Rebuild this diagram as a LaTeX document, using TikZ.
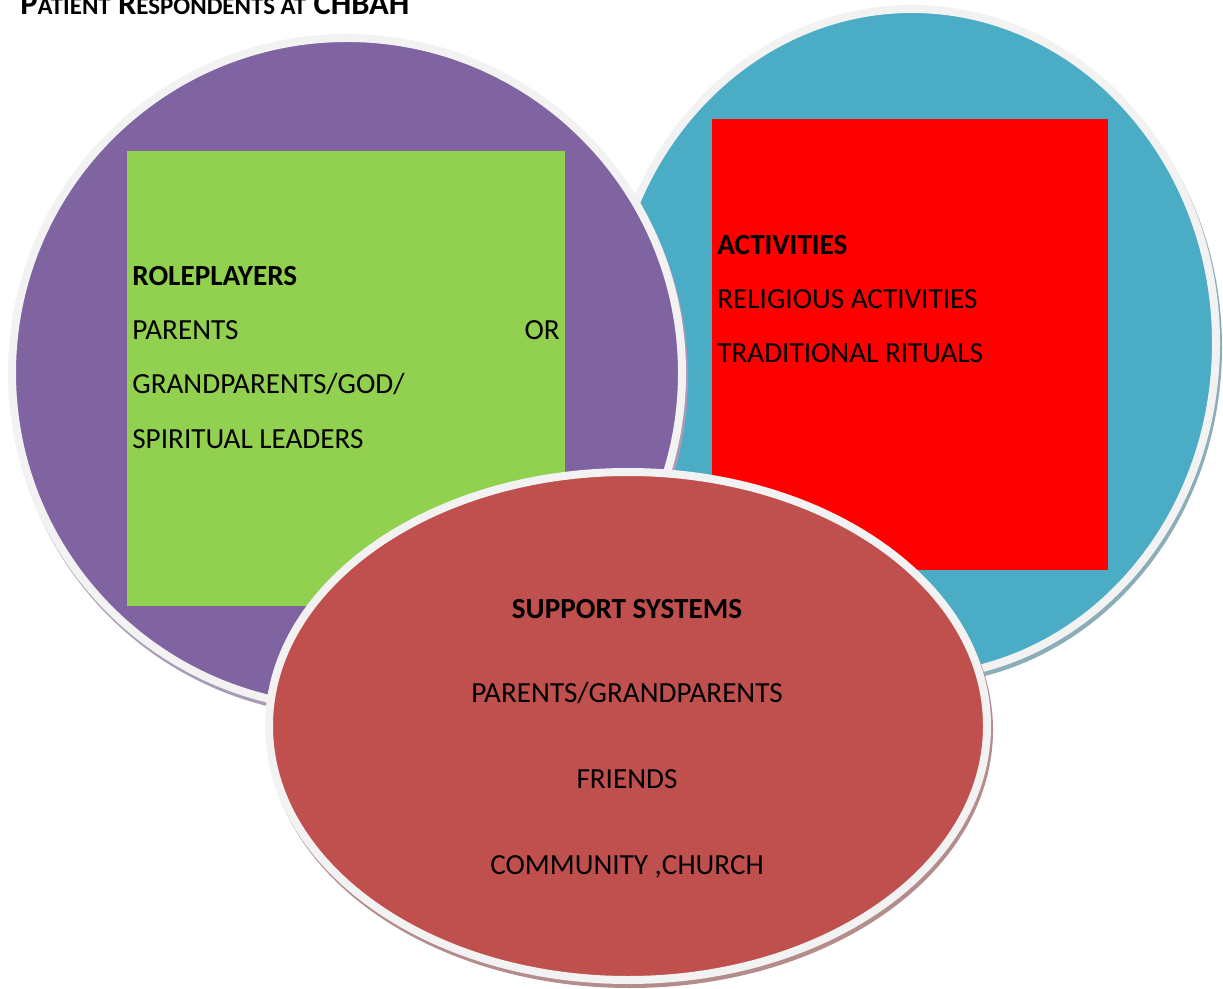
\documentclass[tikz,border=0pt]{standalone}
\usepackage{fontspec}
\setmainfont{Carlito}

\definecolor{roleviolet}{HTML}{8064A2}
\definecolor{roleshade}{HTML}{A99BB4}
\definecolor{actblue}{HTML}{4BACC6}
\definecolor{actshade}{HTML}{8AADB8}
\definecolor{suppred}{HTML}{C0504D}
\definecolor{suppshade}{HTML}{B48C8C}
\definecolor{rimwhite}{HTML}{F2F2F2}
\definecolor{leafgreen}{HTML}{92D050}

\tikzset{
  rim/.style={draw=rimwhite, line width=0.16cm},
  txt/.style={font=\fontsize{16.6}{20}\selectfont, inner sep=0pt},
  hd/.style={txt, font=\fontsize{16.6}{20}\selectfont\bfseries}
}

\begin{document}
\begin{tikzpicture}[x=0.02cm, y=-0.02cm]
            \useasboundingbox (0,0) rectangle (1223,989);

            % title, cut at the top
            \node[anchor=base west, inner sep=0pt, font=\fontsize{18.5}{20}\selectfont\bfseries] (title) at (20,15)
                {P{\fontsize{14.2}{16}\selectfont ATIENT} R{\fontsize{14.2}{16}\selectfont ESPONDENTS AT} CHBAH};

            % blue circle
            \fill[actshade] (914,347) ellipse [x radius=308, y radius=338];
            \draw[rim, fill=actblue] (912,343) ellipse [x radius=304, y radius=334];
            % purple circle
            \fill[roleshade] (349,377) ellipse [x radius=339, y radius=339];
            \draw[rim, fill=roleviolet] (347,373) ellipse [x radius=335, y radius=335];

            % boxes
            \fill[leafgreen] (127,151) rectangle (565,606);
            \fill[red] (712,119) rectangle (1108,570);

            \node[hd, anchor=base west] (roles) at (132,286) {ROLEPLAYERS};
            \node[txt, anchor=base west] (par) at (132,340) {PARENTS};
            \node[txt, anchor=base east] (or) at (560,340) {OR};
            \node[txt, anchor=base west] (grand) at (132,394) {GRANDPARENTS/GOD/};
            \node[txt, anchor=base west] (spirit) at (132,448) {SPIRITUAL LEADERS};

            \node[hd, anchor=base west] (acts) at (717,255) {ACTIVITIES};
            \node[txt, anchor=base west] (relig) at (717,309) {RELIGIOUS ACTIVITIES};
            \node[txt, anchor=base west] (ritual) at (717,363) {TRADITIONAL RITUALS};

            % red ellipse in front
            \fill[suppshade] (630,730) ellipse [x radius=363, y radius=258];
            \draw[rim, fill=suppred] (628,726) ellipse [x radius=359, y radius=254];

            \node[hd, anchor=base] (supp) at (627,618) {SUPPORT SYSTEMS};
            \node[txt, anchor=base] (family) at (627,702) {PARENTS/GRANDPARENTS};
            \node[txt, anchor=base] (friends) at (627,788) {FRIENDS};
            \node[txt, anchor=base] (church) at (627,874) {COMMUNITY ,CHURCH};
     \end{tikzpicture}
\end{document}
